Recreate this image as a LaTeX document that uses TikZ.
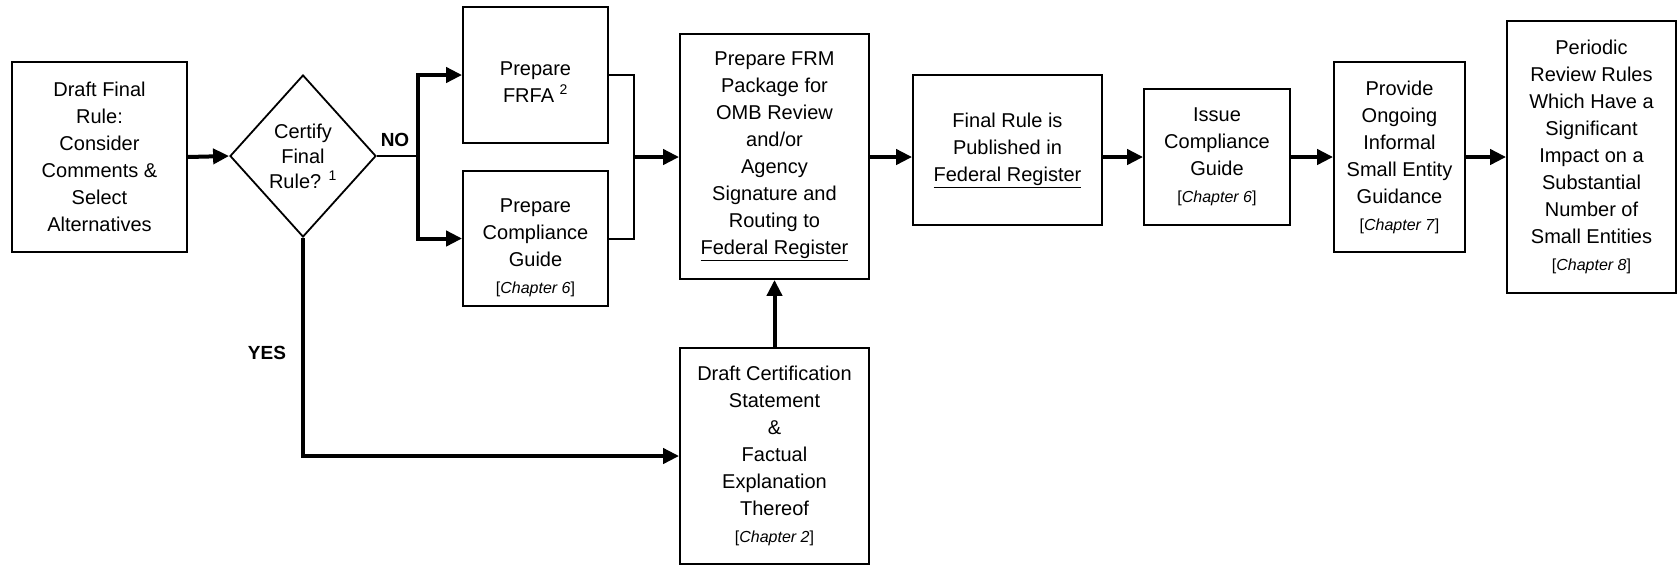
\documentclass[tikz,border=0pt]{standalone}
\usepackage{fontspec}
\setmainfont{Liberation Sans}
\usetikzlibrary{shapes.geometric,arrows.meta}
\newcommand{\chapref}[1]{{\fontsize{16}{27}\selectfont[\textit{Chapter #1}]}}
\begin{document}
\begin{tikzpicture}[x=1pt,y=-1pt,
  box/.style={draw, line width=1.8pt, rectangle, align=center, inner sep=2pt, font=\fontsize{20}{27}\selectfont},
  txt/.style={align=center, inner sep=0pt, font=\fontsize{20}{27}\selectfont},
  arr/.style={line width=4pt, -{Triangle[length=16pt,width=15pt]}, line join=miter},
  thinline/.style={line width=2pt, line join=miter},
  lab/.style={font=\bfseries\fontsize{19}{22}\selectfont, inner sep=0pt}]
\useasboundingbox (0,0) rectangle (1678,566);

\node[box, minimum width=175pt, minimum height=190pt] (draft) at (99.5,157)
  {Draft Final\\Rule:\\Consider\\Comments \&\\Select\\Alternatives};
\node[diamond, draw, line width=1.8pt, minimum width=146pt, minimum height=162pt,
  inner sep=0pt, align=center, font=\fontsize{20}{25}\selectfont] (cert) at (303,156)
  {Certify\\Final\\Rule? \textsuperscript{1}};

\node[box, minimum width=145pt, minimum height=136pt] (frfa) at (535.5,75) {};
\node[txt] (frfatxt) at (535.5,82) {Prepare\\FRFA \textsuperscript{2}};
\node[box, minimum width=145pt, minimum height=135pt] (comp) at (535.5,238.5) {};
\node[txt] (comptxt) at (535.5,248) {Prepare\\Compliance\\Guide\\\chapref{6}};

\node[box, minimum width=189pt, minimum height=245pt] (frm) at (774.5,156.5)
  {Prepare FRM\\Package for\\OMB Review\\and/or\\Agency\\Signature and\\Routing to\\\underline{Federal Register}};
\node[box, minimum width=189pt, minimum height=216pt] (dcert) at (774.5,456)
  {Draft Certification\\Statement\\\&\\Factual\\Explanation\\Thereof\\\chapref{2}};

\node[box, minimum width=189pt, minimum height=150pt] (pub) at (1007.5,150)
  {Final Rule is\\Published in\\\underline{Federal Register}};
\node[box, minimum width=146pt, minimum height=136pt] (issue) at (1217,157)
  {Issue\\Compliance\\Guide\\\chapref{6}};
\node[box, minimum width=131pt, minimum height=190pt] (prov) at (1399.5,157)
  {Provide\\Ongoing\\Informal\\Small Entity\\Guidance\\\chapref{7}};
\node[box, minimum width=169pt, minimum height=272pt] (peri) at (1591.5,157)
  {Periodic\\Review Rules\\Which Have a\\Significant\\Impact on a\\Substantial\\Number of\\Small Entities\\\chapref{8}};

\node[lab] (no) at (395,140) {NO};
\node[lab] (yes) at (267,353) {YES};

\coordinate (split) at (418,156);
\coordinate (merge) at (634,157);

\draw[arr] (draft.east) -- (cert.west);
\draw[thinline] (cert.east) -- (split);
\draw[arr] (split) |- (frfa.west);
\draw[arr] (split) |- (comp.west);
\draw[thinline] (frfa.east) -| (merge) |- (comp.east);
\draw[arr] (merge) -- (merge -| frm.west);
\draw[arr] (cert.south) |- (dcert.west);
\draw[arr] (dcert.north) -- (frm.south);
\draw[arr] (frm.east |- issue.west) -- (issue.west -| pub.west);
\draw[arr] (pub.east |- issue.west) -- (issue.west);
\draw[arr] (issue.east) -- (prov.west);
\draw[arr] (prov.east) -- (peri.west);
\end{tikzpicture}
\end{document}
